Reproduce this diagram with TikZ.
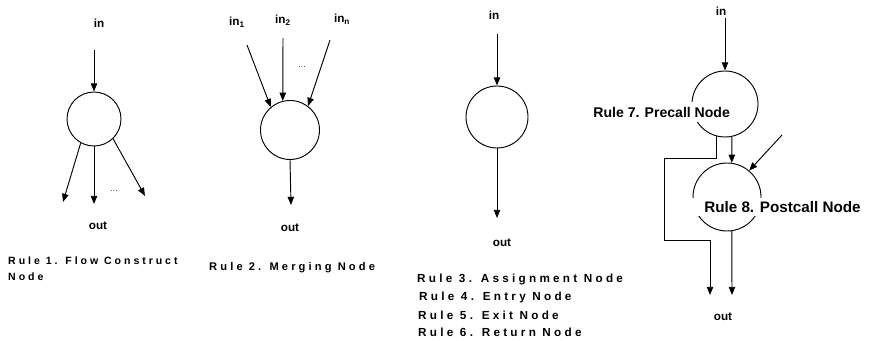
\documentclass[tikz,border=0pt]{standalone}
\usepackage{fontspec}
\setmainfont{Liberation Sans}
\newfontfamily\rulefont[LetterSpace=28]{Liberation Sans}
\usetikzlibrary{arrows.meta}

\tikzset{
  flow/.style={draw, circle, line width=0.8pt, inner sep=0pt},
  arr/.style={line width=0.8pt, -{Triangle[length=7pt,width=5.5pt]}},
  lbl/.style={font=\fontsize{10}{11}\selectfont\bfseries},
  rulelbl/.style={font=\fontsize{10}{13.6}\selectfont\rulefont\bfseries, anchor=west, align=left, inner sep=0pt},
  calllbl/.style={font=\fontsize{12}{13}\selectfont\bfseries, anchor=west, fill=white, inner xsep=1pt, inner ysep=4pt},
  dots/.style={font=\fontsize{7}{8}\selectfont}
}

\begin{document}
\begin{tikzpicture}[x=0.03cm, y=-0.03cm]
    \useasboundingbox (0,0) rectangle (870,341);

    % Rule 1: flow construct
    \node[lbl] (in1) at (99,23) {in};
    \node[flow, minimum size=1.62cm] (c1) at (94,119) {};
    \coordinate (s1) at (94,50);
    \coordinate (o1a) at (63,202);
    \coordinate (o1b) at (94,204);
    \coordinate (o1c) at (145,196);
    \draw[arr] (s1) -- (c1.north);
    \draw[arr] (c1.241) -- (o1a);
    \draw[arr] (c1.south) -- (o1b);
    \draw[arr] (c1.314) -- (o1c);
    \node[dots] (d1) at (114,191) {\dots};
    \node[lbl] (out1) at (98,226) {out};
    \node[rulelbl, font=\fontsize{9}{13.6}\selectfont\rulefont\bfseries] (r1) at (8,269) {Rule 1. Flow Construct\\Node};

    % Rule 2: merging node
    \node[lbl] (in2a) at (237,22) {in\textsubscript{1}};
    \node[lbl] (in2b) at (283,20) {in\textsubscript{2}};
    \node[lbl] (in2n) at (342,19) {in\textsubscript{n}};
    \node[flow, minimum size=1.77cm] (c2) at (290,130) {};
    \coordinate (s2a) at (247,45);
    \coordinate (s2b) at (283,38);
    \coordinate (s2n) at (330,40);
    \coordinate (o2) at (291,205);
    \draw[arr] (s2a) -- (c2.130);
    \draw[arr] (s2b) -- (c2.104);
    \draw[arr] (s2n) -- (c2.53);
    \draw[arr] (c2.south) -- (o2);
    \node[dots] (d2) at (302,67) {\dots};
    \node[lbl] (out2) at (290,228) {out};
    \node[rulelbl, font=\fontsize{9.5}{13.6}\selectfont\rulefont\bfseries] (r2) at (209,268) {Rule 2. Merging Node};

    % Rules 3-6
    \node[lbl] (in3) at (494,15) {in};
    \node[flow, minimum size=1.86cm] (c3) at (497,117) {};
    \coordinate (s3) at (497,34);
    \coordinate (o3) at (497,218);
    \draw[arr] (s3) -- (c3.north);
    \draw[arr] (c3.south) -- (o3);
    \node[lbl] (out3) at (502,243) {out};
    \node[rulelbl] (r3) at (417,279) {Rule 3. Assignment Node};
    \node[rulelbl] (r4) at (419,297) {Rule 4. Entry Node};
    \node[rulelbl] (r5) at (418,315) {Rule 5. Exit Node};
    \node[rulelbl] (r6) at (418,332) {Rule 6. Return Node};

    % Rules 7-8: call nodes
    \node[lbl] (in4) at (721,11) {in};
    \node[flow, minimum size=1.98cm] (pre) at (725,104) {};
    \node[flow, minimum size=2.04cm] (post) at (727,197) {};
    \coordinate (s4) at (725,18);
    \coordinate (s4b) at (782,135);
    \coordinate (o4a) at (710,295);
    \coordinate (o4b) at (732,295);
    \draw[arr] (s4) -- (pre.north);
    \draw[arr] (pre.282) -- (post.82);
    \draw[arr] (s4b) -- (post.50);
    \draw[arr] (pre.256) |- (664,158) |- (710,240) -- (o4a);
    \draw[arr] (post.278) -- (o4b);
    \node[calllbl] (r7) at (592,112) {Rule 7. Precall Node};
    \node[calllbl, font=\fontsize{13}{14}\selectfont\bfseries, inner xsep=12pt, inner ysep=3pt] (r8) at (690,207) {Rule 8. Postcall Node};
    \node[lbl] (out4) at (723,317) {out};
\end{tikzpicture}
\end{document}
